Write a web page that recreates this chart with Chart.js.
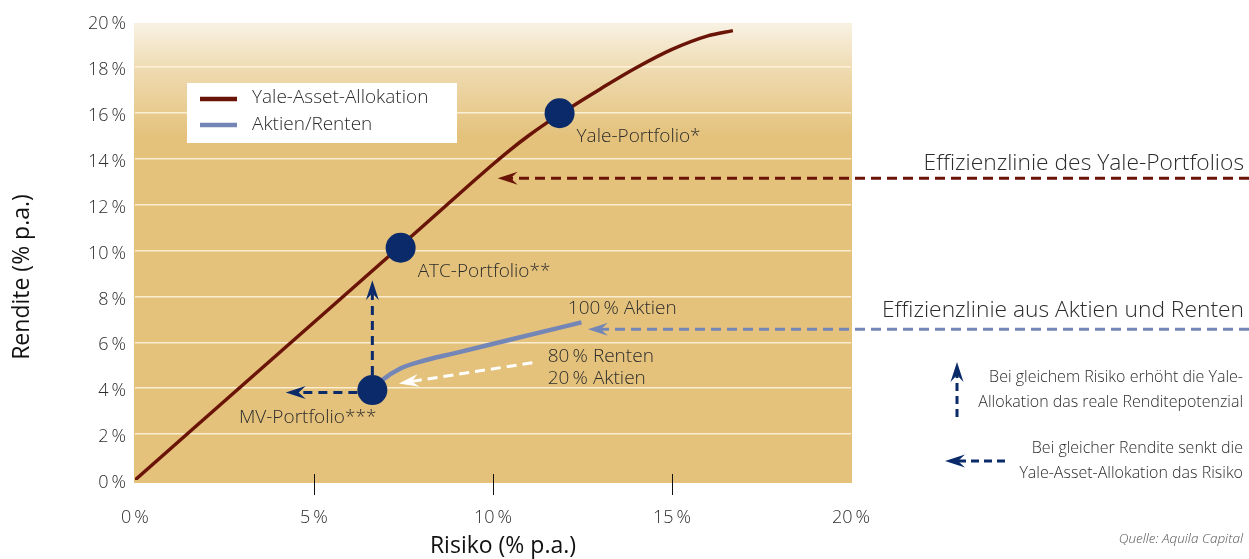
<!DOCTYPE html>
<html>
<head>
<meta charset="utf-8">
<script src="https://cdn.jsdelivr.net/npm/chart.js@4.4.0/dist/chart.umd.min.js"></script>
<style>
  body { margin: 0; background: #fff; }
  #wrap { width: 1249px; height: 559px; position: relative; }
</style>
</head>
<body>
<div id="wrap"><canvas id="frontier"></canvas></div>
<script>
// Risiko (x) und Rendite (y) in % p.a.
const yaleRisk   = [0, 4, 8, 9.5, 10, 10.5, 11, 11.5, 12, 13, 14, 15, 16, 16.7];
const yaleReturn = [0, 5.5, 11.0, 13.08, 13.76, 14.41, 15.01, 15.56, 16.07, 17.04, 17.96, 18.76, 19.35, 19.58];

const mixRisk   = [6.63, 6.9, 7.4, 7.95, 9.0, 10.5, 12.47];
const mixReturn = [3.92, 4.35, 4.85, 5.15, 5.55, 6.12, 6.87];

const portfolioNames  = ['Yale-Portfolio*', 'ATC-Portfolio**', 'MV-Portfolio***'];
const portfolioRisk   = [11.86, 7.42, 6.63];
const portfolioReturn = [15.98, 10.12, 3.92];

const seriesNames = ['Yale-Asset-Allokation', 'Aktien/Renten'];
const riskTicks   = [0, 5, 10, 15, 20];
const returnTicks = [0, 2, 4, 6, 8, 10, 12, 14, 16, 18, 20];

const MAROON = '#6a1408';
const STEEL  = '#7486b5';
const NAVY   = '#0a2a6a';
const TEXT   = '#2c2c2c';
const FONT   = '"Open Sans", "Noto Sans", sans-serif';

function toPoints(xs, ys) {
  return xs.map((x, i) => ({ x: x, y: ys[i] }));
}

function pct(v) {
  return v + '\u2009%';
}

// gestrichelter Pfeil mit eingezogener Spitze
function arrow(ctx, x1, y1, x2, y2, color, dash) {
  const a = Math.atan2(y2 - y1, x2 - x1);
  const L = 20, W = 6.5, N = 7;
  const ex = x2 - Math.cos(a) * (L - N), ey = y2 - Math.sin(a) * (L - N);
  ctx.save();
  ctx.strokeStyle = color;
  ctx.lineWidth = 3;
  ctx.setLineDash(dash);
  ctx.beginPath();
  ctx.moveTo(x1, y1);
  ctx.lineTo(ex, ey);
  ctx.stroke();
  ctx.setLineDash([]);
  ctx.translate(x2, y2);
  ctx.rotate(a);
  ctx.fillStyle = color;
  ctx.beginPath();
  ctx.moveTo(0, 0);
  ctx.lineTo(-L, -W);
  ctx.lineTo(-L + N, 0);
  ctx.lineTo(-L, W);
  ctx.closePath();
  ctx.fill();
  ctx.restore();
}

function text(ctx, str, x, y, size, align, opts) {
  opts = opts || {};
  ctx.save();
  ctx.font = (opts.style || '') + ' ' + (opts.weight || 300) + ' ' + size + 'px ' + FONT;
  ctx.fillStyle = opts.color || TEXT;
  ctx.textAlign = align;
  ctx.textBaseline = 'middle';
  ctx.fillText(str, x, y);
  ctx.restore();
}

const decor = {
  id: 'decor',
  beforeDraw(chart) {
    const ctx = chart.ctx, a = chart.chartArea;
    const g = ctx.createLinearGradient(0, a.top + 2, 0, a.top + 115);
    g.addColorStop(0, '#f8f1e3');
    g.addColorStop(0.45, '#eed9ad');
    g.addColorStop(1, '#e4c27c');
    ctx.save();
    ctx.fillStyle = g;
    ctx.fillRect(a.left - 1, a.top + 2, a.right - a.left + 2, a.bottom - a.top + 1);
    ctx.restore();
  },
  afterDatasetsDraw(chart) {
    const ctx = chart.ctx, a = chart.chartArea;
    const sx = chart.scales.x, sy = chart.scales.y;
    const px = v => sx.getPixelForValue(v);
    const py = v => sy.getPixelForValue(v);
    const W = chart.width;

    // Teilstriche der Risiko-Achse
    ctx.save();
    ctx.strokeStyle = '#111';
    ctx.lineWidth = 1;
    [5, 10, 15].forEach(v => {
      const x = Math.round(px(v)) + 0.5;
      ctx.beginPath();
      ctx.moveTo(x, a.bottom - 6);
      ctx.lineTo(x, a.bottom + 15);
      ctx.stroke();
    });
    ctx.restore();

    // Pfeile im Diagramm
    const mvx = px(portfolioRisk[2]), mvy = py(portfolioReturn[2]);
    arrow(ctx, W, py(13.15), px(10.13), py(13.15), MAROON, [10, 6]);
    arrow(ctx, W, py(6.57), px(12.65), py(6.57), STEEL, [10, 6]);
    arrow(ctx, mvx, mvy - 15, mvx, py(8.7), NAVY, [9, 6]);
    arrow(ctx, mvx - 15, py(3.81), px(4.21), py(3.81), NAVY, [9, 6]);
    arrow(ctx, px(11.1), py(5.11), px(7.37), py(4.21), '#ffffff', [10, 6]);

    // Beschriftung der Portfolios
    text(ctx, portfolioNames[0], px(portfolioRisk[0]) + 17, py(portfolioReturn[0]) + 23, 19, 'left');
    text(ctx, portfolioNames[1], px(portfolioRisk[1]) + 17, py(portfolioReturn[1]) + 24, 19, 'left');
    text(ctx, portfolioNames[2], mvx + 4, mvy + 28, 19, 'right');
    text(ctx, '100\u2009% Aktien', px(12.09), py(7.49), 19, 'left');
    text(ctx, '80\u2009% Renten', px(11.53), py(5.37), 19, 'left');
    text(ctx, '20\u2009% Aktien', px(11.53), py(4.44), 19, 'left');

    // Legende
    ctx.save();
    ctx.fillStyle = '#ffffff';
    ctx.fillRect(187, 83, 270, 60);
    ctx.lineWidth = 4.5;
    ctx.strokeStyle = MAROON;
    ctx.beginPath(); ctx.moveTo(200, 99); ctx.lineTo(237, 99); ctx.stroke();
    ctx.strokeStyle = STEEL;
    ctx.beginPath(); ctx.moveTo(200, 125); ctx.lineTo(237, 125); ctx.stroke();
    ctx.restore();
    text(ctx, seriesNames[0], 252, 98, 19, 'left');
    text(ctx, seriesNames[1], 252, 125, 19, 'left');

    // Achsentitel
    text(ctx, 'Risiko (% p.a.)', 503, 546, 23, 'center', { weight: 400, color: '#111' });
    ctx.save();
    ctx.translate(22, 277);
    ctx.rotate(-Math.PI / 2);
    text(ctx, 'Rendite (% p.a.)', 0, 0, 23, 'center', { weight: 400, color: '#111' });
    ctx.restore();

    // Erläuterungen rechts
    text(ctx, 'Effizienzlinie des Yale-Portfolios', 1244, 164, 22.8, 'right');
    text(ctx, 'Effizienzlinie aus Aktien und Renten', 1244, 311, 22.8, 'right');
    arrow(ctx, 957, 417, 957, 362, NAVY, [8, 5]);
    text(ctx, 'Bei gleichem Risiko erhöht die Yale-', 1243, 377, 16, 'right');
    text(ctx, 'Allokation das reale Renditepotenzial', 1243, 402, 16, 'right');
    arrow(ctx, 1005, 461, 945, 461, NAVY, [8, 5]);
    text(ctx, 'Bei gleicher Rendite senkt die', 1243, 448, 16, 'right');
    text(ctx, 'Yale-Asset-Allokation das Risiko', 1243, 473, 16, 'right');
    text(ctx, 'Quelle: Aquila Capital', 1243, 539, 13.5, 'right', { style: 'italic', color: '#555' });
  }
};

const data = {
  datasets: [
    {
      label: 'Portfolios',
      data: toPoints(portfolioRisk, portfolioReturn),
      showLine: false,
      pointRadius: 15,
      pointHoverRadius: 15,
      pointBackgroundColor: NAVY,
      pointBorderWidth: 0
    },
    {
      label: seriesNames[0],
      data: toPoints(yaleRisk, yaleReturn),
      borderColor: MAROON,
      borderWidth: 3.5,
      pointRadius: 0,
      cubicInterpolationMode: 'monotone'
    },
    {
      label: seriesNames[1],
      data: toPoints(mixRisk, mixReturn),
      borderColor: STEEL,
      borderWidth: 4.5,
      pointRadius: 0,
      cubicInterpolationMode: 'monotone'
    }
  ]
};

const config = {
  type: 'line',
  data: data,
  plugins: [decor],
  options: {
    responsive: true,
    maintainAspectRatio: false,
    animation: false,
    events: [],
    layout: { padding: { top: 21, right: 398, left: 0, bottom: 0 } },
    plugins: { legend: { display: false }, tooltip: { enabled: false } },
    scales: {
      x: {
        type: 'linear',
        min: 0,
        max: 20,
        afterBuildTicks: s => { s.ticks = riskTicks.map(v => ({ value: v })); },
        afterFit: s => { s.height = 79; },
        grid: { display: false, drawTicks: false },
        border: { display: false },
        ticks: {
          padding: 27,
          color: TEXT,
          font: { family: FONT, size: 18, weight: 300 },
          callback: v => pct(v)
        }
      },
      y: {
        type: 'linear',
        min: 0,
        max: 20,
        afterBuildTicks: s => { s.ticks = returnTicks.map(v => ({ value: v })); },
        afterFit: s => { s.width = 135; },
        grid: {
          drawTicks: false,
          lineWidth: 1.5,
          color: c => (c.tick && (c.tick.value === 0 || c.tick.value === 20)) ? 'rgba(0,0,0,0)' : 'rgba(255,247,230,0.8)'
        },
        border: { display: false },
        ticks: {
          padding: 9,
          labelOffset: 3,
          color: TEXT,
          font: { family: FONT, size: 18, weight: 300 },
          callback: v => pct(v)
        }
      }
    }
  }
};

const frontierChart = new Chart(document.getElementById('frontier'), config);
</script>
</body>
</html>
